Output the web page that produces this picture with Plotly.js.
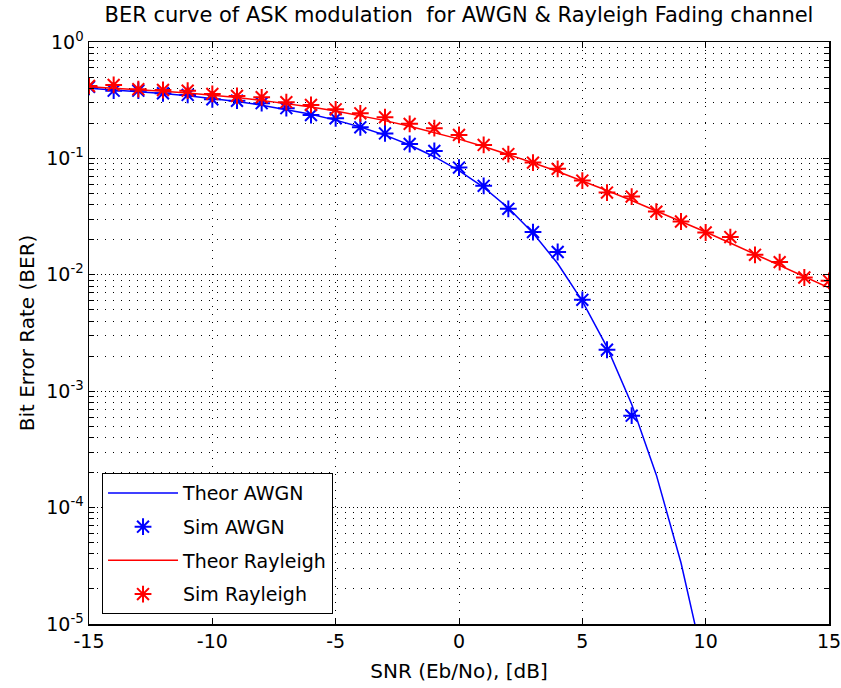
<!DOCTYPE html>
<html>
<head>
<meta charset="utf-8">
<script src="https://cdn.plot.ly/plotly-3.0.1.min.js"></script>
<style>html,body{margin:0;padding:0;background:#fff;}#chart{width:841px;height:688px;}</style>
</head>
<body>
<div id="chart"></div>
<script>
// SNR axis values (dB)
const snrTheorAwgn = [-15,-14,-13,-12,-11,-10,-9,-8,-7,-6,-5,-4,-3,-2,-1,0,1,2,3,4,5,6,7,8,9,10];
const berTheorAwgn = [0.4007,0.3889,0.3758,0.3612,0.3451,0.3274,0.3079,0.2867,0.2637,0.2391,0.2132,0.1862,0.1584,0.1303,0.1034,0.0786,0.0563,0.0375,0.0229,0.0125,0.00595,0.00239,0.000773,0.000191,0.0000336,0.00000387];

const snrSimAwgn = [-15,-14,-13,-12,-11,-10,-9,-8,-7,-6,-5,-4,-3,-2,-1,0,1,2,3,4,5,6,7];
const berSimAwgn = [0.411,0.382,0.382,0.363,0.351,0.322,0.313,0.298,0.270,0.236,0.221,0.185,0.164,0.133,0.116,0.0834,0.0581,0.0369,0.0233,0.0157,0.0061,0.00227,0.000616];

const snrRayleigh = [-15,-14,-13,-12,-11,-10,-9,-8,-7,-6,-5,-4,-3,-2,-1,0,1,2,3,4,5,6,7,8,9,10,11,12,13,14,15];
const berTheorRayleigh = [0.4125,0.4022,0.3908,0.3782,0.3644,0.3492,0.3328,0.3151,0.2961,0.2760,0.2549,0.2332,0.2111,0.1890,0.1673,0.1464,0.1267,0.1085,0.0919,0.0771,0.0642,0.0530,0.0435,0.0355,0.0288,0.0233,0.01875,0.01507,0.01208,0.00967,0.00772];
const berSimRayleigh = [0.419,0.428,0.393,0.387,0.382,0.358,0.344,0.335,0.304,0.288,0.264,0.244,0.226,0.198,0.182,0.159,0.1305,0.109,0.092,0.0813,0.0645,0.0509,0.0470,0.0349,0.0287,0.0231,0.0211,0.01485,0.01285,0.00948,0.00887];

const xTickVals = [-15,-10,-5,0,5,10,15];
const xTickText = ['-15','-10','-5','0','5','10','15'];
const yTickVals = [1e-5,1e-4,1e-3,1e-2,1e-1,1];
const yTickText = ['10<sup>-5</sup>','10<sup>-4</sup>','10<sup>-3</sup>','10<sup>-2</sup>','10<sup>-1</sup>','10<sup>0</sup>'];

const FONT = 'DejaVu Sans, Arial, sans-serif';
const star = {symbol:'asterisk-open', size:14};

const traces = [
  {x:snrTheorAwgn, y:berTheorAwgn, mode:'lines', name:'Theor AWGN', legendgroup:'a',
   line:{color:'#0000ff', width:1.5}},
  {x:snrSimAwgn, y:berSimAwgn, mode:'markers', name:'Sim AWGN', legendgroup:'b',
   marker:Object.assign({color:'#0000ff'}, star, {line:{width:2, color:'#0000ff'}})},
  {x:snrRayleigh, y:berTheorRayleigh, mode:'lines', name:'Theor Rayleigh', legendgroup:'c',
   line:{color:'#ff0000', width:1.5}},
  {x:snrRayleigh, y:berSimRayleigh, mode:'markers', name:'Sim Rayleigh', legendgroup:'d',
   marker:Object.assign({color:'#ff0000'}, star, {line:{width:2, color:'#ff0000'}})}
];

const layout = {
  width:841, height:688,
  margin:{l:89, r:12, t:42, b:64},
  paper_bgcolor:'#fff', plot_bgcolor:'#fff',
  font:{family:FONT, color:'#000', size:19},
  showlegend:true,
  title:{text:'BER curve of ASK modulation  for AWGN &amp; Rayleigh Fading channel',
         font:{family:FONT, size:21, color:'#000'},
         x:0.5, xref:'paper', xanchor:'center', y:1-15/688, yref:'container', yanchor:'middle'},
  xaxis:{range:[-15,15], tickvals:xTickVals, ticktext:xTickText,
         showline:true, mirror:'ticks', linecolor:'#000', linewidth:1.5,
         ticks:'inside', ticklen:6, tickcolor:'#000', tickwidth:1,
         showgrid:true, gridcolor:'#000', gridwidth:1, griddash:'1px,7px',
         zeroline:false, tickfont:{size:19}, automargin:false, ticklabeloverflow:'allow',
         title:{text:'SNR (Eb/No), [dB]', font:{size:20}, standoff:12}},
  yaxis:{type:'log', range:[-5,0], tickvals:yTickVals, ticktext:yTickText,
         showline:true, mirror:'ticks', linecolor:'#000', linewidth:1.5,
         ticks:'inside', ticklen:6, tickcolor:'#000', tickwidth:1,
         showgrid:true, gridcolor:'#000', gridwidth:1, griddash:'1px,3px',
         zeroline:false, tickfont:{size:19}, automargin:false, ticklabeloverflow:'allow',
         minor:{dtick:'D1', ticks:'inside', ticklen:5, tickcolor:'#000',
                showgrid:true, gridcolor:'#000', gridwidth:1, griddash:'1px,7px'},
         title:{text:'Bit Error Rate (BER)', font:{size:20}, standoff:6}},
  legend:{x:0.0176, y:0.017, xanchor:'left', yanchor:'bottom',
          bgcolor:'#fff', bordercolor:'#000', borderwidth:1,
          font:{size:19, family:FONT}, itemwidth:70, tracegroupgap:6, traceorder:'grouped'}
};

Plotly.newPlot('chart', traces, layout, {displayModeBar:false, staticPlot:true});
</script>
</body>
</html>
